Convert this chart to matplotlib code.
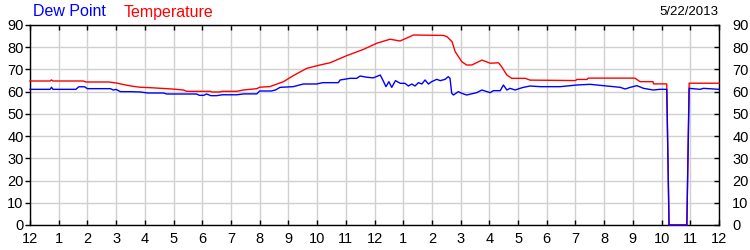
import matplotlib
matplotlib.use("Agg")
import matplotlib.pyplot as plt
import matplotlib.lines as mlines
import matplotlib.transforms as mtrans

# hours since midnight
temp_hours = [0.0, 0.7, 0.75, 0.8, 1.85, 1.95, 2.75, 3.0, 3.37, 3.6, 3.83, 4.18,
              4.76, 5.1, 5.34, 5.46, 6.27, 6.35, 6.6, 6.7, 7.2, 7.43, 7.9, 8.0,
              8.36, 8.83, 9.17, 9.64, 10.1, 10.45, 11.03, 11.61, 12.08, 12.54,
              12.89, 13.36, 14.4, 14.52, 14.7, 14.81, 15.04, 15.21, 15.39, 15.74,
              16.03, 16.32, 16.43, 16.61, 16.78, 17.25, 17.42, 19.0, 19.05, 19.4,
              19.45, 21.07, 21.25, 21.7, 21.72, 22.18, 22.26, 22.88, 22.96, 24.0]
temperature = [64.8, 64.8, 65.3, 64.8, 64.8, 64.35, 64.35, 63.9, 62.9, 62.4, 62.0, 61.8,
               61.35, 61.05, 60.75, 60.15, 60.15, 59.85, 59.85, 60.15, 60.15, 60.75, 61.35, 62.0,
               62.3, 64.5, 67.2, 70.5, 72.0, 73.0, 76.2, 79.0, 81.8, 83.6,
               82.8, 85.5, 85.3, 84.8, 82.5, 78.0, 73.5, 72.0, 72.0, 74.2,
               72.8, 73.0, 71.2, 67.5, 66.0, 66.0, 65.2, 65.0, 65.5, 65.5,
               66.1, 66.1, 64.5, 64.5, 63.5, 63.5, 0, 0, 63.8, 63.8]

dew_hours = [0.0, 0.7, 0.75, 0.8, 1.6, 1.7, 1.9, 2.0, 2.8, 2.9, 3.0, 3.15, 3.5, 3.85,
             4.1, 4.65, 4.76, 5.8, 5.9, 6.05, 6.15, 6.3, 6.5, 6.7, 7.2, 7.45, 7.9,
             8.0, 8.4, 8.55, 8.71, 9.17, 9.52, 9.98, 10.2, 10.74, 10.8, 11.15, 11.38,
             11.5, 11.73, 11.96, 12.2, 12.3, 12.4, 12.5, 12.6, 12.73, 12.9, 13.06,
             13.18, 13.3, 13.41, 13.53, 13.65, 13.76, 13.88, 13.99, 14.17, 14.29,
             14.46, 14.57, 14.63, 14.69, 14.75, 14.92, 15.04, 15.21, 15.56, 15.74,
             16.03, 16.14, 16.38, 16.49, 16.61, 16.72, 16.9, 17.07, 17.19, 17.42,
             17.77, 18.47, 19.05, 19.51, 20.09, 20.56, 20.73, 20.91, 21.14, 21.37,
             21.71, 21.94, 22.18, 22.26, 22.88, 22.96, 23.34, 23.46, 24.0]
dew_point = [61.05, 61.05, 62.0, 61.05, 61.05, 62.2, 62.2, 61.35, 61.35, 60.75, 61.0, 60.0, 60.0, 59.85,
             59.4, 59.4, 58.95, 58.95, 58.35, 58.35, 58.95, 58.2, 58.2, 58.6, 58.6, 59.0, 59.0,
             60.3, 60.3, 60.75, 61.95, 62.25, 63.45, 63.45, 64.05, 64.05, 65.25, 66.0, 66.0,
             67.05, 66.5, 66.2, 67.5, 64.95, 62.25, 64.5, 61.95, 64.95, 63.75, 63.75,
             62.55, 63.45, 62.55, 64.05, 63.45, 65.25, 63.45, 64.5, 65.55, 64.95,
             65.55, 66.75, 66.0, 59.25, 58.5, 60.0, 59.25, 58.5, 59.55, 60.75,
             59.55, 60.45, 60.45, 63.0, 60.75, 61.5, 60.75, 61.5, 61.95, 62.55,
             62.25, 62.25, 63.0, 63.3, 62.55, 61.95, 61.2, 61.95, 62.7, 61.5,
             60.75, 61.05, 61.05, 0, 0, 61.5, 61.05, 61.5, 61.05]

hour_labels = ["12", "1", "2", "3", "4", "5", "6", "7", "8", "9", "10", "11",
               "12", "1", "2", "3", "4", "5", "6", "7", "8", "9", "10", "11", "12"]
y_ticks = [0, 10, 20, 30, 40, 50, 60, 70, 80, 90]
date_text = "5/22/2013"

plt.rcParams["font.family"] = ["Liberation Sans", "DejaVu Sans"]

fig = plt.figure(figsize=(7.5, 2.5), dpi=100)
ax = fig.add_axes([30 / 750, 25 / 250, 689 / 750, 200 / 250])

ax.plot(temp_hours, temperature, color="#ff0000", lw=1.0, zorder=5, clip_on=False)
ax.plot(dew_hours, dew_point, color="#0000ff", lw=1.0, zorder=6, clip_on=False)

ax.set_xlim(0, 24)
ax.set_ylim(0, 90)
ax.set_xticks(range(25))
ax.set_xticklabels(hour_labels)
ax.set_yticks(y_ticks)
ax.grid(True, color="#d0d0d0", lw=1.0, zorder=0)
ax.set_axisbelow(True)

for s in ax.spines.values():
    s.set_linewidth(1.0)
    s.set_zorder(4)

# x ticks point inward top and bottom
ax.tick_params(axis="x", direction="in", top=True, bottom=True, length=3.5,
               labelsize=10.5, pad=5, width=1)
# y: left ticks out, right ticks in, labels both sides
ax.tick_params(axis="y", left=True, right=True, labelleft=True, labelright=True,
               direction="out", length=3.5, pad=1, labelsize=10.5, width=1)
offset = mtrans.ScaledTranslation(5 / 72, 0, fig.dpi_scale_trans)
for t in ax.yaxis.get_major_ticks():
    t.tick2line.set_marker(mlines.TICKLEFT)
    t.tick2line.set_markersize(3.5)
    t.label2.set_transform(t.label2.get_transform() + offset)

fig.text(33 / 750, 1 - 12 / 250, "Dew Point", color="#0000ff", fontsize=11.5,
         va="center", ha="left")
fig.text(124 / 750, 1 - 12 / 250, "Temperature", color="#ff0000", fontsize=11.5,
         va="center", ha="left")
fig.text(718 / 750, 1 - 12 / 250, date_text, color="#000000", fontsize=9.5,
         va="center", ha="right")

fig.savefig("out.png", dpi=100)
